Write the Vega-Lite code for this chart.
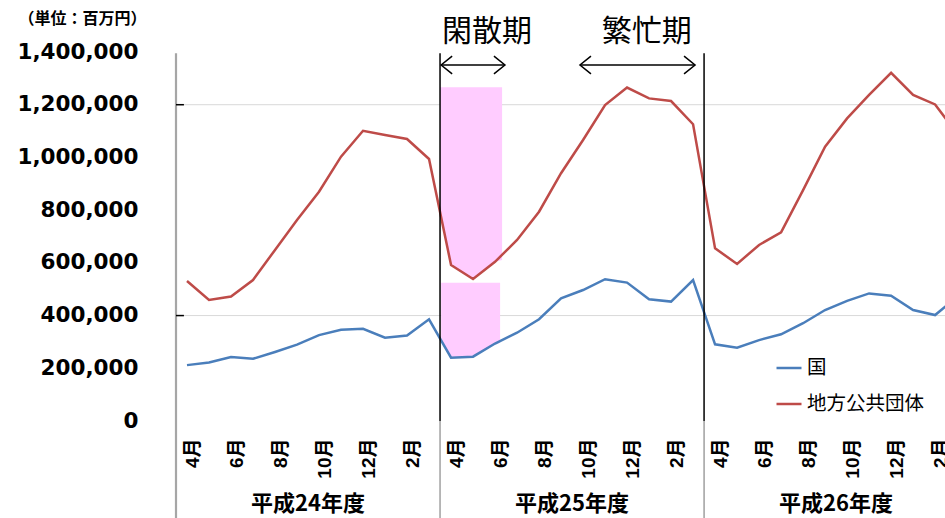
{
  "$schema": "https://vega.github.io/schema/vega-lite/v6.json",
  "width": 769,
  "height": 369,
  "autosize": {"type": "none"},
  "padding": {"left": 176, "top": 52, "right": 0, "bottom": 97},
  "background": "white",
  "config": {"view": {"stroke": null}, "font": "Noto Sans CJK JP"},
  "datasets": {
    "series": [
      {"i": 0, "s": "国", "v": 212000}, {"i": 1, "s": "国", "v": 222000}, {"i": 2, "s": "国", "v": 243000},
      {"i": 3, "s": "国", "v": 236000}, {"i": 4, "s": "国", "v": 262000}, {"i": 5, "s": "国", "v": 290000},
      {"i": 6, "s": "国", "v": 326000}, {"i": 7, "s": "国", "v": 346000}, {"i": 8, "s": "国", "v": 350000},
      {"i": 9, "s": "国", "v": 316000}, {"i": 10, "s": "国", "v": 324000}, {"i": 11, "s": "国", "v": 386000},
      {"i": 12, "s": "国", "v": 240000}, {"i": 13, "s": "国", "v": 244000}, {"i": 14, "s": "国", "v": 294000},
      {"i": 15, "s": "国", "v": 335000}, {"i": 16, "s": "国", "v": 386000}, {"i": 17, "s": "国", "v": 465000},
      {"i": 18, "s": "国", "v": 497000}, {"i": 19, "s": "国", "v": 538000}, {"i": 20, "s": "国", "v": 525000},
      {"i": 21, "s": "国", "v": 462000}, {"i": 22, "s": "国", "v": 453000}, {"i": 23, "s": "国", "v": 535000},
      {"i": 24, "s": "国", "v": 291000}, {"i": 25, "s": "国", "v": 278000}, {"i": 26, "s": "国", "v": 307000},
      {"i": 27, "s": "国", "v": 329000}, {"i": 28, "s": "国", "v": 371000}, {"i": 29, "s": "国", "v": 421000},
      {"i": 30, "s": "国", "v": 456000}, {"i": 31, "s": "国", "v": 484000}, {"i": 32, "s": "国", "v": 475000},
      {"i": 33, "s": "国", "v": 421000}, {"i": 34, "s": "国", "v": 402000}, {"i": 35, "s": "国", "v": 470000},
      {"i": 0, "s": "地方公共団体", "v": 531000}, {"i": 1, "s": "地方公共団体", "v": 459000}, {"i": 2, "s": "地方公共団体", "v": 472000},
      {"i": 3, "s": "地方公共団体", "v": 535000}, {"i": 4, "s": "地方公共団体", "v": 649000}, {"i": 5, "s": "地方公共団体", "v": 763000},
      {"i": 6, "s": "地方公共団体", "v": 870000}, {"i": 7, "s": "地方公共団体", "v": 1003000}, {"i": 8, "s": "地方公共団体", "v": 1101000},
      {"i": 9, "s": "地方公共団体", "v": 1085000}, {"i": 10, "s": "地方公共団体", "v": 1070000}, {"i": 11, "s": "地方公共団体", "v": 994000},
      {"i": 12, "s": "地方公共団体", "v": 592000}, {"i": 13, "s": "地方公共団体", "v": 539000}, {"i": 14, "s": "地方公共団体", "v": 604000},
      {"i": 15, "s": "地方公共団体", "v": 687000}, {"i": 16, "s": "地方公共団体", "v": 794000}, {"i": 17, "s": "地方公共団体", "v": 940000},
      {"i": 18, "s": "地方公共団体", "v": 1066000}, {"i": 19, "s": "地方公共団体", "v": 1199000}, {"i": 20, "s": "地方公共団体", "v": 1265000},
      {"i": 21, "s": "地方公共団体", "v": 1224000}, {"i": 22, "s": "地方公共団体", "v": 1214000}, {"i": 23, "s": "地方公共団体", "v": 1126000},
      {"i": 24, "s": "地方公共団体", "v": 655000}, {"i": 25, "s": "地方公共団体", "v": 596000}, {"i": 26, "s": "地方公共団体", "v": 668000},
      {"i": 27, "s": "地方公共団体", "v": 716000}, {"i": 28, "s": "地方公共団体", "v": 876000}, {"i": 29, "s": "地方公共団体", "v": 1041000},
      {"i": 30, "s": "地方公共団体", "v": 1148000}, {"i": 31, "s": "地方公共団体", "v": 1237000}, {"i": 32, "s": "地方公共団体", "v": 1321000},
      {"i": 33, "s": "地方公共団体", "v": 1237000}, {"i": 34, "s": "地方公共団体", "v": 1201000}, {"i": 35, "s": "地方公共団体", "v": 1090000}
    ],
    "grid": [{"v": 400000}, {"v": 1200000}],
    "pink": [
      {"g": "a", "i": 11.5, "lo": 789000, "hi": 1266000},
      {"g": "a", "i": 12, "lo": 592000, "hi": 1266000},
      {"g": "a", "i": 13, "lo": 539000, "hi": 1266000},
      {"g": "a", "i": 14, "lo": 604000, "hi": 1266000},
      {"g": "a", "i": 14.32, "lo": 611000, "hi": 1266000},
      {"g": "b", "i": 11.55, "lo": 315000, "hi": 525000},
      {"g": "b", "i": 12, "lo": 240000, "hi": 525000},
      {"g": "b", "i": 13, "lo": 247000, "hi": 525000},
      {"g": "b", "i": 14, "lo": 290000, "hi": 525000},
      {"g": "b", "i": 14.23, "lo": 297000, "hi": 525000}
    ],
    "breaks": [{"b": 11.5}, {"b": 23.5}],
    "periods": [
      {"name": "閑散期", "c": 13.64, "a": 11.55, "b": 14.45},
      {"name": "繁忙期", "c": 20.9, "a": 17.86, "b": 23.09}
    ],
    "years": [
      {"name": "平成24年度", "c": 5.5},
      {"name": "平成25年度", "c": 17.5},
      {"name": "平成26年度", "c": 29.5}
    ]
  },
  "encoding": {
    "x": {
      "type": "quantitative",
      "scale": {"domain": [-0.5, 34.45], "nice": false, "zero": false},
      "axis": {
        "values": [0, 2, 4, 6, 8, 10, 12, 14, 16, 18, 20, 22, 24, 26, 28, 30, 32, 34],
        "labelExpr": "((datum.value + 3) % 12 + 1) + '月'",
        "labelAngle": 270, "labelAlign": "right", "labelBaseline": "middle",
        "labelPadding": 17, "labelOffset": 5,
        "labelFont": "Liberation Sans, Noto Sans CJK JP", "labelFontSize": 19, "labelFontWeight": "bold",
        "labelColor": "black", "labelOverlap": false, "labelFlush": false,
        "domain": false, "ticks": false, "grid": false, "title": null
      }
    },
    "y": {
      "type": "quantitative",
      "scale": {"domain": [0, 1400000], "nice": false, "zero": false},
      "axis": {
        "values": [0, 200000, 400000, 600000, 800000, 1000000, 1200000, 1400000],
        "labelExpr": "format(datum.value, ',')",
        "labelFont": "DejaVu Sans", "labelFontSize": 21.5, "labelFontWeight": "bold", "labelColor": "black",
        "labelPadding": 38, "domain": false, "ticks": false, "grid": false,
        "title": "（単位：百万円）", "titleAngle": 0, "titleX": -94, "titleY": -34,
        "titleAlign": "center", "titleBaseline": "middle",
        "titleFont": "Noto Sans CJK JP", "titleFontSize": 16, "titleFontWeight": "bold", "titleColor": "black"
      }
    }
  },
  "layer": [
    {
      "data": {"name": "grid"},
      "mark": {"type": "rule", "color": "#D9D9D9", "strokeWidth": 1},
      "encoding": {
        "x": {"datum": -0.5},
        "x2": {"datum": 34.45},
        "y": {"field": "v"}
      }
    },
    {
      "data": {"name": "pink"},
      "mark": {"type": "area", "color": "#FFCCFF", "opacity": 1},
      "encoding": {
        "x": {"field": "i"},
        "y": {"field": "lo"},
        "y2": {"field": "hi"},
        "detail": {"field": "g"}
      }
    },
    {
      "data": {"name": "series"},
      "mark": {"type": "line", "strokeWidth": 2.5, "clip": true},
      "encoding": {
        "x": {"field": "i"},
        "y": {"field": "v"},
        "color": {
          "field": "s", "type": "nominal",
          "scale": {"domain": ["国", "地方公共団体"], "range": ["#4A7EBB", "#BE4B48"]},
          "legend": {
            "orient": "none", "legendX": 599, "legendY": 302, "title": null,
            "symbolType": "stroke", "symbolSize": 625, "symbolStrokeWidth": 2.5,
            "labelFont": "Noto Sans CJK JP", "labelFontSize": 19.5, "labelColor": "black",
            "rowPadding": 12, "labelOffset": 4
          }
        }
      }
    },
    {
      "data": {"name": "breaks"},
      "mark": {"type": "rule", "color": "black", "strokeWidth": 1.5},
      "encoding": {
        "x": {"field": "b"},
        "y": {"datum": 1395000},
        "y2": {"datum": 0}
      }
    },
    {
      "data": {"name": "breaks"},
      "mark": {"type": "rule", "color": "#888888", "strokeWidth": 1.2, "clip": false},
      "encoding": {
        "x": {"field": "b"},
        "y": {"datum": 0},
        "y2": {"datum": -372000}
      }
    },
    {
      "data": {"values": [{"a": 0}]},
      "mark": {"type": "rule", "color": "#A6A6A6", "strokeWidth": 2.2, "clip": false},
      "encoding": {
        "x": {"datum": -0.5},
        "y": {"datum": 1395000},
        "y2": {"datum": -372000}
      }
    },
    {
      "data": {"name": "grid"},
      "mark": {"type": "rule", "color": "black", "strokeWidth": 1.5},
      "encoding": {
        "x": {"datum": -0.5},
        "x2": {"datum": -0.14},
        "y": {"field": "v"}
      }
    },
    {
      "data": {"name": "periods"},
      "mark": {"type": "rule", "color": "black", "strokeWidth": 1.5, "clip": false},
      "encoding": {
        "x": {"field": "a"},
        "x2": {"field": "b"},
        "y": {"datum": 1350700}
      }
    },
    {
      "data": {"name": "periods"},
      "mark": {"type": "point", "shape": "M1,-0.8L0,0L1,0.8", "filled": false, "stroke": "black", "strokeWidth": 1.5, "size": 484, "opacity": 1, "clip": false},
      "encoding": {
        "x": {"field": "a"},
        "y": {"datum": 1350700}
      }
    },
    {
      "data": {"name": "periods"},
      "mark": {"type": "point", "shape": "M-1,-0.8L0,0L-1,0.8", "filled": false, "stroke": "black", "strokeWidth": 1.5, "size": 484, "opacity": 1, "clip": false},
      "encoding": {
        "x": {"field": "b"},
        "y": {"datum": 1350700}
      }
    },
    {
      "data": {"name": "periods"},
      "mark": {"type": "text", "font": "Noto Sans CJK JP", "fontSize": 30, "fontWeight": "normal", "color": "black", "align": "center", "baseline": "middle", "clip": false},
      "encoding": {
        "x": {"field": "c"},
        "y": {"datum": 1476000},
        "text": {"field": "name"}
      }
    },
    {
      "data": {"name": "years"},
      "mark": {"type": "text", "font": "Noto Sans CJK JP", "fontSize": 22, "fontWeight": "bold", "color": "black", "align": "center", "baseline": "middle", "clip": false},
      "encoding": {
        "x": {"field": "c"},
        "y": {"datum": -316000},
        "text": {"field": "name"}
      }
    }
  ]
}
